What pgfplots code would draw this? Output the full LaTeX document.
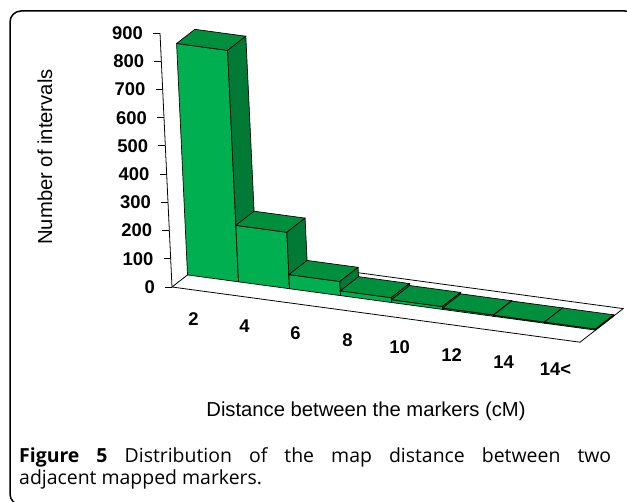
\documentclass[border=0pt]{standalone}
\usepackage{pgfplots}
\pgfplotsset{compat=1.18}
\usepackage{fontspec}
\setmainfont{Liberation Sans}
\newfontfamily\capfont{Open Sans}
\definecolor{barfront}{HTML}{00B050}
\definecolor{bartop}{HTML}{008F3D}
\definecolor{barside}{HTML}{007A35}
\newcommand\tickfont{\fontsize{18.5}{21}\selectfont\bfseries}
\newcommand\titlefont{\fontsize{20.3}{24}\selectfont}
% one bar: left edge, right edge, value
\newcommand\drawbar[3]{%
  \addplot3[draw=black, line width=0.7bp, fill=barfront, no marks] coordinates {(#1,1.15,0) (#2,1.15,0) (#2,1.15,#3) (#1,1.15,#3) (#1,1.15,0)};
  \addplot3[draw=black, line width=0.7bp, fill=bartop, no marks] coordinates {(#1,1.15,#3) (#2,1.15,#3) (#2,2.5,#3) (#1,2.5,#3) (#1,1.15,#3)};
  \addplot3[draw=black, line width=0.7bp, fill=barside, no marks] coordinates {(#2,1.15,0) (#2,2.5,0) (#2,2.5,#3) (#2,1.15,#3) (#2,1.15,0)};
}
\begin{document}
\begin{tikzpicture}
\useasboundingbox (0,0) rectangle (627bp,502bp);
\fill[white] (0,0) rectangle (627bp,502bp);
\begin{scope}
\clip (0,0) rectangle (627bp,502bp);
\draw[line width=1.5bp, rounded corners=11bp] (10bp,-3bp) rectangle (636bp,491bp);
\end{scope}
\begin{axis}[
  at={(172bp,215bp)}, anchor=origin,
  x={(51bp,-6.9bp)}, y={(13.5bp,10.5bp)}, z={(-0.013333bp,0.28222bp)},
  xmin=0, xmax=8, ymin=0, ymax=3.2, zmin=0, zmax=900,
  hide axis, clip=false,
]
% floor
\addplot3[draw=black, line width=0.8bp, fill=white, no marks] coordinates {(0,0,0) (8,0,0) (8,3.2,0) (0,3.2,0) (0,0,0)};
% bars: categories 2,4,6,8,10,12,14,14<
\drawbar{0}{1}{820}
\drawbar{1}{2}{200}
\drawbar{2}{3}{50}
\drawbar{3}{4}{17}
\drawbar{4}{5}{10}
\drawbar{5}{6}{5}
\drawbar{6}{7}{4}
\drawbar{7}{8}{4}
% value axis
\draw[line width=0.8bp] (axis cs:0,0,0) -- (axis cs:0,0,900);
\pgfplotsinvokeforeach{0,100,200,300,400,500,600,700,800,900}{
  \draw[line width=0.8bp] (axis cs:0,0,#1) -- ++(-7bp,0bp);
  \node[anchor=east, inner sep=0pt, font=\tickfont] at ([xshift=-17bp]axis cs:0,0,#1) {#1};
}
% category labels
\node[font=\tickfont] at ([xshift=-4bp,yshift=-29bp]axis cs:0.5,0,0) {2};
\node[font=\tickfont] at ([xshift=-4bp,yshift=-29bp]axis cs:1.5,0,0) {4};
\node[font=\tickfont] at ([xshift=-4bp,yshift=-29bp]axis cs:2.5,0,0) {6};
\node[font=\tickfont] at ([xshift=-3bp,yshift=-29bp]axis cs:3.5,0,0) {8};
\node[font=\tickfont] at ([xshift=-2bp,yshift=-29bp]axis cs:4.5,0,0) {10};
\node[font=\tickfont] at ([xshift=-1bp,yshift=-30bp]axis cs:5.5,0,0) {12};
\node[font=\tickfont] at ([xshift=0bp,yshift=-30bp]axis cs:6.5,0,0) {14};
\node[font=\tickfont] at ([xshift=1bp,yshift=-30bp]axis cs:7.5,0,0) {14<};
\end{axis}
\node[font=\titlefont] at (366bp,91bp) {Distance between the markers (cM)};
\node[font=\titlefont, rotate=90] at (45bp,345bp) {Number of intervals};
\node[anchor=north west, inner sep=0pt, text width=592bp, align=justify, font=\capfont\fontsize{19.5}{23}\selectfont] at (19bp,55bp)
  {\textbf{Figure 5} Distribution of the map distance between two\linebreak adjacent mapped markers.};
\end{tikzpicture}
\end{document}
